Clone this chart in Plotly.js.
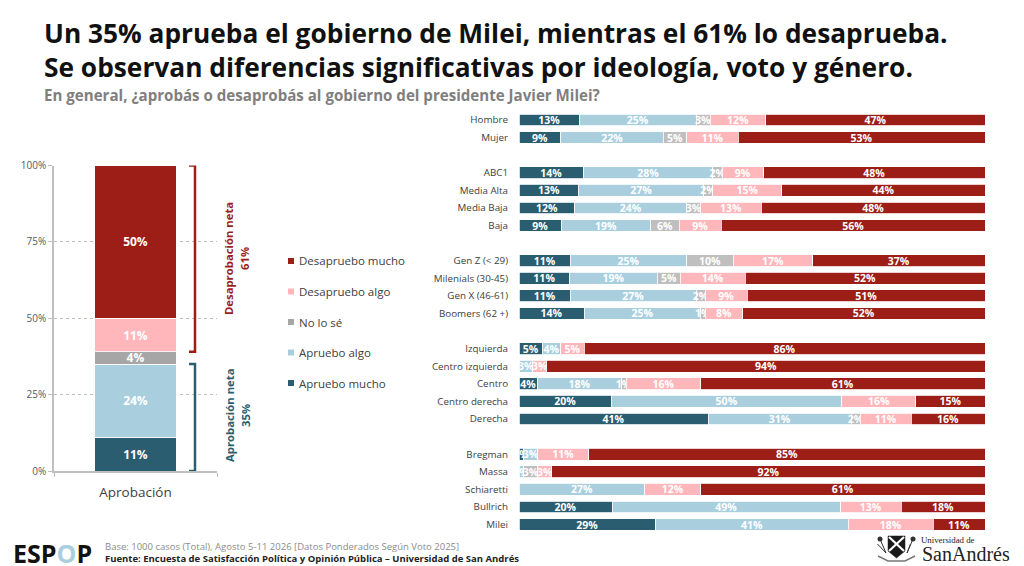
<!DOCTYPE html>
<html>
<head>
<meta charset="utf-8">
<script src="https://cdn.plot.ly/plotly-3.0.1.min.js"></script>
<style>body { margin: 0; background: #fff; } #chart { width: 1024px; height: 566px; }</style>
</head>
<body>
<div id="chart"></div>
<script>
// datos
const seriesNames = ['Apruebo mucho', 'Apruebo algo', 'No lo sé', 'Desapruebo algo', 'Desapruebo mucho'];
const seriesColors = ['#2a5d70', '#a9cfdf', '#bfbfbf', '#ffb7bb', '#9c1e17'];

const totalLabel = 'Aprobación';
const totalValues = [11, 24, 4, 11, 50];
const totalGray = '#a6a6a6';
const totalTicks = [0, 25, 50, 75, 100];

const groupA = ['Hombre', 'Mujer'];
const groupB = ['ABC1', 'Media Alta', 'Media Baja', 'Baja'];
const groupC = ['Gen Z (< 29)', 'Milenials (30-45)', 'Gen X (46-61)', 'Boomers (62 +)'];
const groupD = ['Izquierda', 'Centro izquierda', 'Centro', 'Centro derecha', 'Derecha'];
const groupE = ['Bregman', 'Massa', 'Schiaretti', 'Bullrich', 'Milei'];
const groups = [groupA, groupB, groupC, groupD, groupE];

const apruebaMucho = [13, 9, 14, 13, 12, 9, 11, 11, 11, 14, 5, 0, 4, 20, 41, 1, 0, 0, 20, 29];
const apruebaAlgo = [25, 22, 28, 27, 24, 19, 25, 19, 27, 25, 4, 3, 18, 50, 31, 3, 1, 27, 49, 41];
const noSabe = [3, 5, 2, 2, 3, 6, 10, 5, 2, 1, 0, 0, 1, 0, 2, 0, 3, 0, 0, 0];
const desapruebaAlgo = [12, 11, 9, 15, 13, 9, 17, 14, 9, 8, 5, 3, 16, 16, 11, 11, 3, 12, 13, 18];
const desapruebaMucho = [47, 53, 48, 44, 48, 56, 37, 52, 51, 52, 86, 94, 61, 15, 16, 85, 92, 61, 18, 11];
const rowValues = [apruebaMucho, apruebaAlgo, noSabe, desapruebaAlgo, desapruebaMucho];

// Hilfsfunktionen: pixel -> paper
const W = 1024, H = 566;
const px = x => x / W;
const py = y => 1 - y / H;

function label(text, x, y, size, color, extra) {
  return Object.assign({
    text, x: px(x), y: py(y), xref: 'paper', yref: 'paper', showarrow: false,
    xanchor: 'left', yanchor: 'middle', borderpad: 0,
    font: { family: 'Open Sans', size, color }
  }, extra || {});
}

// filas con un hueco entre grupos
const rowNames = [];
const rowPos = [];
let pos = 0;
groups.forEach(g => {
  g.forEach(name => { rowNames.push(name); rowPos.push(pos); pos++; });
  pos++;
});

const traces = [];

// barra total (izquierda)
seriesNames.forEach((name, i) => {
  traces.push({
    type: 'bar', name, x: [totalLabel], y: [totalValues[i]], width: 0.5,
    text: [totalValues[i] + '%'], textposition: 'inside', textangle: 0,
    insidetextanchor: 'middle', constraintext: 'none',
    textfont: { family: 'Open Sans', size: 12, color: '#fff', weight: 700 },
    marker: { color: i === 2 ? totalGray : seriesColors[i], line: { color: '#fff', width: 0.8 } },
    showlegend: false, hoverinfo: 'skip', xaxis: 'x', yaxis: 'y'
  });
});

// barras por segmento (derecha)
seriesNames.forEach((name, i) => {
  traces.push({
    type: 'bar', name, orientation: 'h', x: rowValues[i], y: rowPos,
    text: rowValues[i].map(v => v ? v + '%' : ''), textposition: 'inside', textangle: 0,
    insidetextanchor: 'middle', constraintext: 'none', cliponaxis: false,
    textfont: { family: 'Open Sans', size: 10.5, color: '#fff', weight: 700 },
    marker: { color: seriesColors[i], line: { color: '#fff', width: 0.8 } },
    showlegend: false, hoverinfo: 'skip', xaxis: 'x2', yaxis: 'y2'
  });
});

// leyenda a mano: la de plotly deja demasiado aire entre muestra y texto
function legendShapes() {
  return seriesNames.slice().reverse().map((name, i) => {
    const c = seriesColors[seriesNames.indexOf(name)];
    const y = 261 + i * 30.5;
    return {
      type: 'rect', xref: 'paper', yref: 'paper', line: { width: 0 },
      fillcolor: name === seriesNames[2] ? totalGray : c,
      x0: px(288), x1: px(294), y0: py(y + 3), y1: py(y - 3)
    };
  });
}
function legendLabels() {
  return seriesNames.slice().reverse().map((name, i) =>
    label(name, 298, 261 + i * 30.5, 11.5, '#404040'));
}

// llaves
function bracket(top, bottom, color) {
  const a = px(189), b = px(195);
  return {
    type: 'path', xref: 'paper', yref: 'y',
    path: `M${a},${top} L${b},${top} L${b},${bottom} L${a},${bottom}`,
    line: { color, width: 2.5 }
  };
}

// logo San Andrés, dibujo aproximado
function pathPx(pts) {
  return 'M' + pts.map(p => px(p[0]) + ',' + py(p[1])).join(' L');
}
function logoLine(pts, color, width) {
  return { type: 'path', xref: 'paper', yref: 'paper', path: pathPx(pts), line: { color, width } };
}
function logoShapes() {
  const out = [];
  out.push({
    type: 'path', xref: 'paper', yref: 'paper', fillcolor: '#1a1a1a', line: { color: '#1a1a1a', width: 0.5 },
    path: pathPx([[888, 536], [905, 536], [905, 551], [896.5, 558], [888, 551]]) + ' Z'
  });
  out.push(logoLine([[889, 537], [904, 551]], '#fff', 2.2));
  out.push(logoLine([[904, 537], [889, 551]], '#fff', 2.2));
  [[880, 539, 886, 553], [913, 539, 907, 553]].forEach(t => {
    out.push(logoLine([[t[0], t[1]], [t[2], t[3]]], '#333', 1));
    out.push(logoLine([[t[0] - 2.5, t[1] + 5], [t[2], t[3]]], '#333', 1));
    out.push({
      type: 'circle', xref: 'paper', yref: 'paper', fillcolor: '#333', line: { width: 0 },
      x0: px(t[0] - 2.5), x1: px(t[0] + 2.5), y0: py(t[1] + 2.5), y1: py(t[1] - 2.5)
    });
  });
  out.push(logoLine([[878, 556], [888, 561], [905, 561], [915, 556]], '#777', 1.5));
  return out;
}

const rot = { textangle: -90, xanchor: 'center' };

const layout = {
  width: W, height: H,
  margin: { l: 0, r: 0, t: 0, b: 0 },
  paper_bgcolor: '#fff', plot_bgcolor: '#fff',
  barmode: 'stack', barnorm: 'percent', bargap: 0.33,
  showlegend: false,
  font: { family: 'Open Sans', color: '#404040' },
  xaxis: {
    domain: [px(54), px(217)], anchor: 'y', type: 'category', range: [-0.5, 0.5],
    tickson: 'boundaries', ticks: 'outside', ticklen: 4, tickcolor: '#bfbfbf',
    ticklabelstandoff: 8,
    linecolor: '#bfbfbf', linewidth: 1.5, showline: true, showgrid: false,
    tickfont: { family: 'Open Sans', size: 13.5, color: '#404040' }
  },
  yaxis: {
    domain: [py(471), py(165.5)], anchor: 'x', range: [0, 100],
    tickvals: totalTicks, ticktext: totalTicks.map(v => v + '%'),
    ticks: 'outside', ticklen: 4, tickcolor: '#bfbfbf',
    linecolor: '#bfbfbf', linewidth: 1.5, showline: true, zeroline: false,
    gridcolor: '#bfbfbf', griddash: '3px,3px', gridwidth: 1,
    tickfont: { family: 'Open Sans', size: 10, color: '#595959' }
  },
  xaxis2: {
    domain: [px(519), px(985)], anchor: 'y2', range: [0, 100.001],
    visible: false, fixedrange: true
  },
  yaxis2: {
    domain: [py(533.3), py(111.2)], anchor: 'x2', range: [pos - 1.5, -0.5],
    tickvals: rowPos, ticktext: rowNames,
    ticks: 'outside', ticklen: 8, tickcolor: 'rgba(0,0,0,0)',
    showline: false, showgrid: false, zeroline: false,
    tickfont: { family: 'Open Sans', size: 9.8, color: '#404040' }
  },
  shapes: [
    bracket(100, 39, '#9c1e17'),
    bracket(35, 0, '#2a5d70')
  ].concat(legendShapes(), logoShapes()),
  annotations: [
    label('<b>Un 35% aprueba el gobierno de Milei, mientras el 61% lo desaprueba.</b>', 43, 33, 26.3, '#111'),
    label('<b>Se observan diferencias significativas por ideología, voto y género.</b>', 43, 67, 26.3, '#111'),
    label('<b>En general, ¿aprobás o desaprobás al gobierno del presidente Javier Milei?</b>', 43, 95, 15.1, '#7f7f7f'),
    label('<b>Desaprobación neta</b>', 229, 259, 11.3, '#9c1e17', rot),
    label('<b>61%</b>', 245, 259, 11.3, '#9c1e17', rot),
    label('<b>Aprobación neta</b>', 229, 416, 11.3, '#2a5d70', rot),
    label('<b>35%</b>', 245, 416, 11.3, '#2a5d70', rot),
    label('Base: 1000 casos (Total), Agosto 5-11 2026 [Datos Ponderados Según Voto 2025]', 104, 546, 9.5, '#8c8c8c'),
    label('<b>Fuente: Encuesta de Satisfacción Política y Opinión Pública – Universidad de San Andrés</b>', 104, 558, 9.5, '#222'),
    label('<b>ESP<span style="color:#a9cfdf">O</span>P</b>', 12, 553, 25, '#111'),
    label('Universidad de', 920, 540, 8.8, '#222', { font: { family: 'Liberation Serif', size: 8.8, color: '#222' } }),
    label('SanAndrés', 921, 554, 20, '#222', { font: { family: 'Liberation Serif', size: 20, color: '#222' } })
  ].concat(legendLabels())
};

Plotly.newPlot('chart', traces, layout, { displayModeBar: false });
</script>
</body>
</html>
